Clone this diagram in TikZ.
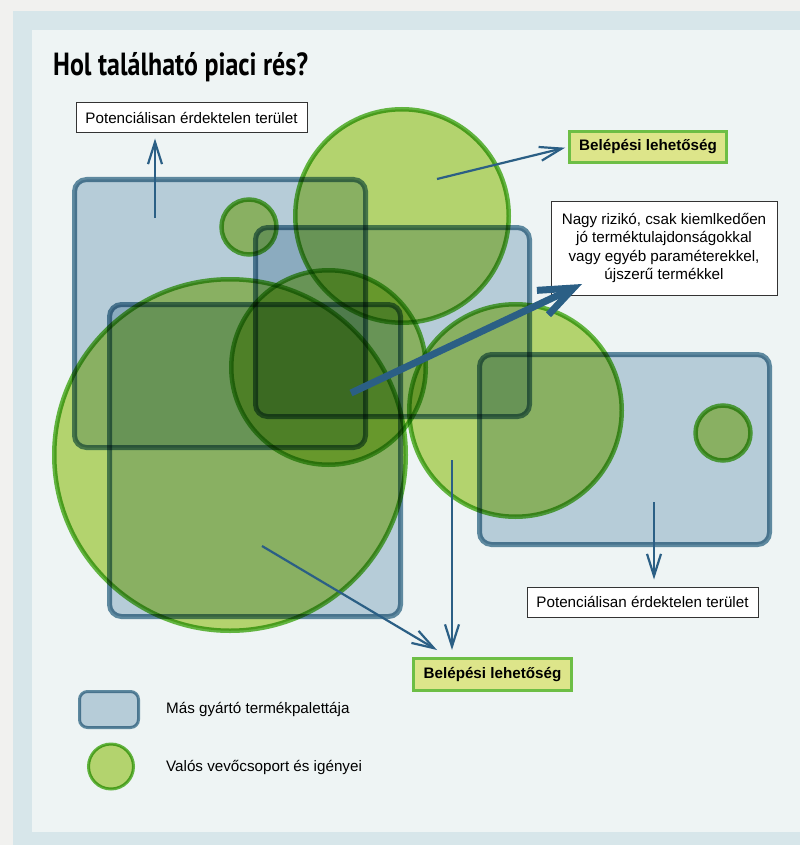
\documentclass[tikz,border=0pt]{standalone}
\usepackage{fontspec}
\setmainfont{Liberation Sans}
\newfontfamily\titlefont{PT Sans}[FakeStretch=0.81]
\usetikzlibrary{arrows.meta}
\definecolor{outerbg}{HTML}{F1F1EF}
\definecolor{framebl}{HTML}{D7E6EA}
\definecolor{panel}{HTML}{EEF4F4}
\definecolor{boxfill}{HTML}{C4D6E2}
\definecolor{boxline}{HTML}{6590A7}
\definecolor{circfill}{HTML}{C0DD74}
\definecolor{circline}{HTML}{69BD43}
\definecolor{arrowbl}{HTML}{2B5F85}
\definecolor{belfill}{HTML}{DDE58A}
\definecolor{belline}{HTML}{6DBE45}
\definecolor{txtline}{HTML}{333333}
\begin{document}
\begin{tikzpicture}[x=1pt,y=-1pt,
  prodbox/.style={draw=boxline, fill=boxfill, line width=5pt, rounded corners=12pt, inner sep=0pt},
  custcirc/.style={circle, draw=circline, fill=circfill, line width=4.5pt, inner sep=0pt},
  txt/.style={font=\fontsize{15.2}{18.3}\selectfont},
  labelbox/.style={txt, draw=txtline, fill=white, line width=1pt, inner sep=0pt, minimum width=231pt, minimum height=30pt},
  entrybox/.style={draw=belline, fill=belfill, line width=3pt, font=\fontsize{15.2}{18.3}\selectfont\bfseries, inner sep=0pt},
  thinarrow/.style={draw=arrowbl, line width=2.2pt, -{Straight Barb[length=22pt,width=14pt]}},
  bigarrow/.style={draw=arrowbl, line width=7pt, -{Straight Barb[length=34pt,width=27pt,line cap=butt,line join=miter]}}
]
\useasboundingbox (0,0) rectangle (800,845);
\fill[outerbg] (0,0) rectangle (800,845);
\fill[framebl] (13,11) rectangle (800,845);
\fill[panel] (32,30) rectangle (800,832);

\node[anchor=base west, inner sep=0pt, font={\titlefont\fontsize{32}{36}\selectfont\bfseries}] (title) at (53,76) {Hol található piaci rés?};

\begin{scope}[blend mode=multiply]
  \node[prodbox, minimum width=291pt, minimum height=268pt] (boxA) at (220,313.5) {};
  \node[prodbox, minimum width=274pt, minimum height=189pt] (boxB) at (392.5,322) {};
  \node[prodbox, minimum width=291pt, minimum height=312pt] (boxC) at (255,460.5) {};
  \node[prodbox, minimum width=290pt, minimum height=190pt] (boxH) at (624.5,449.5) {};
  \node[custcirc, minimum size=351.5pt] (circD) at (230,455) {};
  \node[custcirc, minimum size=194.5pt] (circE) at (328.5,367.5) {};
  \node[custcirc, minimum size=213.5pt] (circF) at (402,216) {};
  \node[custcirc, minimum size=212.5pt] (circG) at (515.5,410.5) {};
  \node[custcirc, minimum size=55pt] (smallA) at (249,227) {};
  \node[custcirc, minimum size=55pt] (smallH) at (723,433) {};
  \node[prodbox, line width=3pt, rounded corners=8pt, minimum width=59pt, minimum height=36pt] (legbox) at (109,709.5) {};
  \node[custcirc, line width=3pt, minimum size=45pt] (legcirc) at (111,766.5) {};
\end{scope}

\node[labelbox] (pot1) at (191.5,118) {Potenciálisan érdektelen terület};
\node[labelbox] (pot2) at (642.5,602) {Potenciálisan érdektelen terület};
\node[entrybox, minimum width=157pt, minimum height=31pt] (bel1) at (648,147) {Belépési lehetőség};
\node[entrybox, minimum width=158pt, minimum height=32pt] (bel2) at (492.5,674.5) {Belépési lehetőség};
\node[txt, draw=txtline, fill=white, line width=1pt, inner sep=0pt, minimum width=226pt, minimum height=94pt, align=center] (risk) at (664,248)
  {Nagy rizikó, csak kiemlkedően\\jó terméktulajdonságokkal\\vagy egyéb paraméterekkel,\\újszerű termékkel};

\coordinate (a1s) at (155,218);
\coordinate (a2s) at (437,179);
\coordinate (a3s) at (262,546);
\coordinate (a3t) at (437,650);
\coordinate (a4s) at (452,460);
\coordinate (a5s) at (654,502);
\coordinate (bs) at (351,393);
\coordinate (bt) at (582,284);

\draw[thinarrow, shorten >=5pt] (a1s) -- (a1s |- pot1.south);
\draw[thinarrow, shorten >=3pt] (a2s) -- (bel1.west);
\draw[thinarrow] (a3s) -- (a3t);
\draw[thinarrow, shorten >=7pt] (a4s) -- (a4s |- bel2.north);
\draw[thinarrow, shorten >=7pt] (a5s) -- (a5s |- pot2.north);
\draw[bigarrow] (bs) -- (bt);

\node[txt, anchor=base west, inner sep=0pt] (leg1) at (166,713.3) {Más gyártó termékpalettája};
\node[txt, anchor=base west, inner sep=0pt] (leg2) at (166,771.5) {Valós vevőcsoport és igényei};
\end{tikzpicture}
\end{document}
